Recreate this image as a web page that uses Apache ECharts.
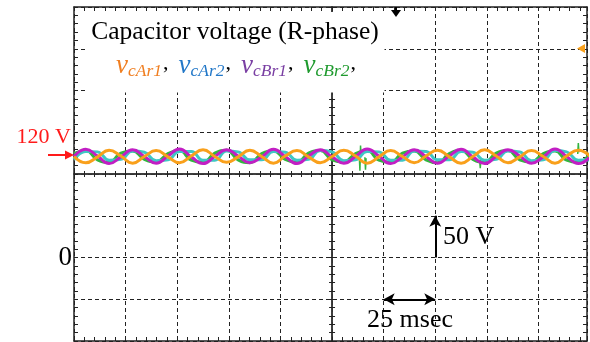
<!DOCTYPE html>
<html>
<head>
<meta charset="utf-8">
<script src="https://cdn.jsdelivr.net/npm/echarts@6/dist/echarts.min.js"></script>
<style>
  html, body { margin: 0; padding: 0; background: #fff; }
  #container { width: 590px; height: 342px; }
</style>
</head>
<body>
<div id="container"></div>
<script>
// sample times (msec), ~quarter period apart
const timeMs = [0, 5.7, 11.4, 17, 22.7, 28.4, 34.1, 39.8, 45.5, 51.1, 56.8, 62.5, 68.2, 73.9, 79.5,
  85.2, 90.9, 96.6, 102.3, 108, 113.6, 119.3, 125, 130.7, 136.4, 142, 147.7, 153.4, 159.1, 164.8,
  170.5, 176.1, 181.8, 187.5, 193.2, 198.9, 204.5, 210.2, 215.9, 221.6, 227.3, 233, 238.6, 244.3, 250];

// capacitor voltages (V)
const vcAr1 = [121, 113.5, 120.5, 128.5, 121.5, 113, 121, 128, 120.5, 113.5, 121.5, 129, 121, 114, 120.5,
  128.5, 121, 113, 121.5, 128, 120.5, 113.5, 121, 128.5, 121.5, 113, 120.5, 128, 121, 113.5,
  121.5, 128.5, 120.5, 113, 121, 129, 121.5, 113.5, 120.5, 128, 121, 113, 121.5, 128.5, 121];
const vcAr2 = [117, 127, 126.5, 116.5, 117.5, 127.5, 126, 116, 117, 127, 127, 116.5, 116.5, 127.5, 126.5,
  117, 117, 127, 126, 116.5, 117.5, 128, 126.5, 116, 117, 127, 126.5, 116.5, 116.5, 127.5,
  127, 117, 117, 127, 126, 116.5, 117.5, 127.5, 126.5, 116, 117, 128, 126.5, 116.5, 117];
const vcBr1 = [121, 129.5, 121.5, 112.5, 120.5, 129, 121, 113, 121.5, 130, 120.5, 112.5, 121, 129, 121.5,
  113.5, 120.5, 129.5, 121, 112.5, 121.5, 129, 120.5, 113, 121, 130, 121.5, 112.5, 120.5, 129,
  121, 113, 121.5, 129.5, 120.5, 112.5, 121, 129, 121.5, 113, 120.5, 130, 121, 112.5, 121];
const vcBr2 = [124.5, 128, 117, 114, 125, 127.5, 117.5, 114.5, 124.5, 128, 116.5, 114, 125, 128.5, 117,
  113.5, 124.5, 127.5, 117.5, 114, 125, 128, 117, 114.5, 124.5, 128, 116.5, 114, 125, 127.5,
  117, 113.5, 124.5, 128.5, 117.5, 114, 125, 128, 117, 114.5, 124.5, 127.5, 116.5, 114, 125];

// switching glitches seen on vcBr2 (null breaks the trace)
const glitchMs = [138.2, 138.5, 138.8, 139.1, null, 140.9, 141.2, 141.5, null, 196.5, 196.8, 197.1, null, 244, 244.3, 244.6];
const glitchV  = [122, 104, 134, 121, null, 120, 105, 119, null, 116, 107, 117, null, 124, 137, 126];

// screen scale (right edge of the screen is cut a little short of 250 msec)
const timeRange = [0, 248.5];
const voltRange = [-100, 300];
const msecPerDiv = 25;
const voltPerDiv = 50;

const pair = (t, v) => t.map((x, i) => (x === null ? null : [x, v[i]]));

const chart = echarts.init(document.getElementById('container'));
const serif = '"Liberation Serif", "DejaVu Serif", serif';
const gridBox = { left: 74, top: 7, width: 513, height: 334 };
const dash = { type: [4, 3], color: '#222', width: 1 };

function borderAxis(extra) {
  return Object.assign({
    type: 'value',
    axisLine: { show: true, onZero: false, lineStyle: { color: '#222', width: 1.5 } },
    axisTick: { show: true, inside: true, length: 4, lineStyle: { color: '#222' } },
    minorTick: { show: true, splitNumber: 5, length: 4, lineStyle: { color: '#222' } },
    axisLabel: { show: false },
    splitLine: { show: false }
  }, extra);
}
function centerAxis(extra, inside) {
  return Object.assign({
    type: 'value',
    axisLine: { show: true, onZero: true, lineStyle: { color: '#333', width: 1.5 } },
    axisTick: { show: true, inside: inside, length: 3, lineStyle: { color: '#222' } },
    minorTick: { show: true, splitNumber: 5, length: 3, lineStyle: { color: '#222' } },
    axisLabel: { show: false },
    splitLine: { show: false }
  }, extra);
}

const option = {
  animation: false,
  backgroundColor: '#fff',
  grid: [gridBox, gridBox, gridBox],
  xAxis: [
    borderAxis({ gridIndex: 0, min: timeRange[0], max: timeRange[1], interval: msecPerDiv, position: 'bottom',
      splitLine: { show: true, lineStyle: dash } }),
    borderAxis({ gridIndex: 0, min: timeRange[0], max: timeRange[1], interval: msecPerDiv, position: 'top' }),
    centerAxis({ gridIndex: 1, min: -125, max: timeRange[1] - 125, interval: msecPerDiv }, true),
    centerAxis({ gridIndex: 2, min: -125, max: timeRange[1] - 125, interval: msecPerDiv }, false)
  ],
  yAxis: [
    borderAxis({ gridIndex: 0, min: voltRange[0], max: voltRange[1], interval: voltPerDiv, position: 'left',
      splitLine: { show: true, lineStyle: dash } }),
    borderAxis({ gridIndex: 0, min: voltRange[0], max: voltRange[1], interval: voltPerDiv, position: 'right' }),
    centerAxis({ gridIndex: 1, min: -200, max: 200, interval: voltPerDiv }, true),
    centerAxis({ gridIndex: 2, min: -200, max: 200, interval: voltPerDiv }, false)
  ],
  series: [
    { name: 'vcBr2', type: 'line', data: pair(timeMs, vcBr2), smooth: 0.5, showSymbol: false, z: 3,
      lineStyle: { color: '#33b540', width: 3 } },
    { name: 'vcBr2 glitch', type: 'line', data: pair(glitchMs, glitchV), showSymbol: false, z: 3,
      connectNulls: false, lineStyle: { color: '#33b540', width: 1.5 } },
    { name: 'vcAr2', type: 'line', data: pair(timeMs, vcAr2), smooth: 0.5, showSymbol: false, z: 3,
      lineStyle: { color: '#3fc7c4', width: 3 } },
    { name: 'vcBr1', type: 'line', data: pair(timeMs, vcBr1), smooth: 0.5, showSymbol: false, z: 4,
      lineStyle: { color: '#c21ec4', width: 3 } },
    { name: 'vcAr1', type: 'line', data: pair(timeMs, vcAr1), smooth: 0.5, showSymbol: false, z: 5,
      lineStyle: { color: '#f9a01b', width: 3 } },
    // scale arrows: 50 V per div, 25 msec per div
    { type: 'line', data: [], z: 6,
      markLine: { silent: true, symbol: ['none', 'arrow'], symbolSize: [9, 11], label: { show: false },
        lineStyle: { color: '#000', width: 2, type: 'solid' },
        data: [[{ coord: [175, 0] }, { coord: [175, 50] }]] } },
    { type: 'line', data: [], z: 6,
      markLine: { silent: true, symbol: ['arrow', 'arrow'], symbolSize: [9, 11], label: { show: false },
        lineStyle: { color: '#000', width: 2, type: 'solid' },
        data: [[{ coord: [150, -50] }, { coord: [175, -50] }]] } }
  ],
  graphic: [
    { type: 'rect', z: 100, shape: { x: 88, y: 12, width: 296.5, height: 80.5 }, style: { fill: '#fff' } },
    { type: 'text', z: 101, x: 235, y: 32,
      style: { text: 'Capacitor voltage (R-phase)', font: '25.5px ' + serif, fill: '#000',
        textAlign: 'center', textVerticalAlign: 'middle' } },
    { type: 'text', z: 101, x: 116, y: 52,
      style: {
        text: '{o|v}{os|cAr1}{k|,}{b|v}{bs|cAr2}{k|,}{p|v}{ps|cBr1}{k|,}{g|v}{gs|cBr2}{k|,}',
        rich: {
          o: { fill: '#f07f22', font: 'italic 27px ' + serif, lineHeight: 28, verticalAlign: 'top' },
          os: { fill: '#f07f22', font: 'italic 17.5px ' + serif, lineHeight: 18, verticalAlign: 'bottom' },
          b: { fill: '#2378c8', font: 'italic 27px ' + serif, lineHeight: 28, verticalAlign: 'top' },
          bs: { fill: '#2378c8', font: 'italic 17.5px ' + serif, lineHeight: 18, verticalAlign: 'bottom' },
          p: { fill: '#7a3fa3', font: 'italic 27px ' + serif, lineHeight: 28, verticalAlign: 'top' },
          ps: { fill: '#7a3fa3', font: 'italic 17.5px ' + serif, lineHeight: 18, verticalAlign: 'bottom' },
          g: { fill: '#1f9a2e', font: 'italic 27px ' + serif, lineHeight: 28, verticalAlign: 'top' },
          gs: { fill: '#1f9a2e', font: 'italic 17.5px ' + serif, lineHeight: 18, verticalAlign: 'bottom' },
          k: { fill: '#000', font: '22px ' + serif, lineHeight: 28, verticalAlign: 'top', padding: [0, 10, 0, 1] }
        }
      } },
    // 120 V marker
    { type: 'text', x: 71, y: 137,
      style: { text: '120 V', font: '22px ' + serif, fill: '#ff1a1a', textAlign: 'right', textVerticalAlign: 'middle' } },
    { type: 'line', shape: { x1: 48, y1: 155, x2: 67, y2: 155 }, style: { stroke: '#ff1a1a', lineWidth: 2 } },
    { type: 'polygon', shape: { points: [[65, 150.5], [74, 155], [65, 159.5]] }, style: { fill: '#ff1a1a' } },
    // ground level
    { type: 'text', x: 72, y: 258,
      style: { text: '0', font: '27px ' + serif, fill: '#000', textAlign: 'right', textVerticalAlign: 'middle' } },
    { type: 'text', z: 101, x: 443, y: 237,
      style: { text: '50 V', font: '26px ' + serif, fill: '#000', textAlign: 'left', textVerticalAlign: 'middle' } },
    { type: 'text', z: 101, x: 410, y: 320,
      style: { text: '25 msec', font: '26px ' + serif, fill: '#000', textAlign: 'center', textVerticalAlign: 'middle' } },
    // trigger position and trigger level markers
    { type: 'polygon', z: 101, shape: { points: [[391, 10], [401, 10], [396, 17]] }, style: { fill: '#000' } },
    { type: 'line', z: 101, shape: { x1: 396, y1: 7, x2: 396, y2: 11 }, style: { stroke: '#000', lineWidth: 2 } },
    { type: 'polygon', z: 101, shape: { points: [[577, 48.5], [585, 44], [585, 53]] }, style: { fill: '#f9a01b' } }
  ]
};
chart.setOption(option);
</script>
</body>
</html>
